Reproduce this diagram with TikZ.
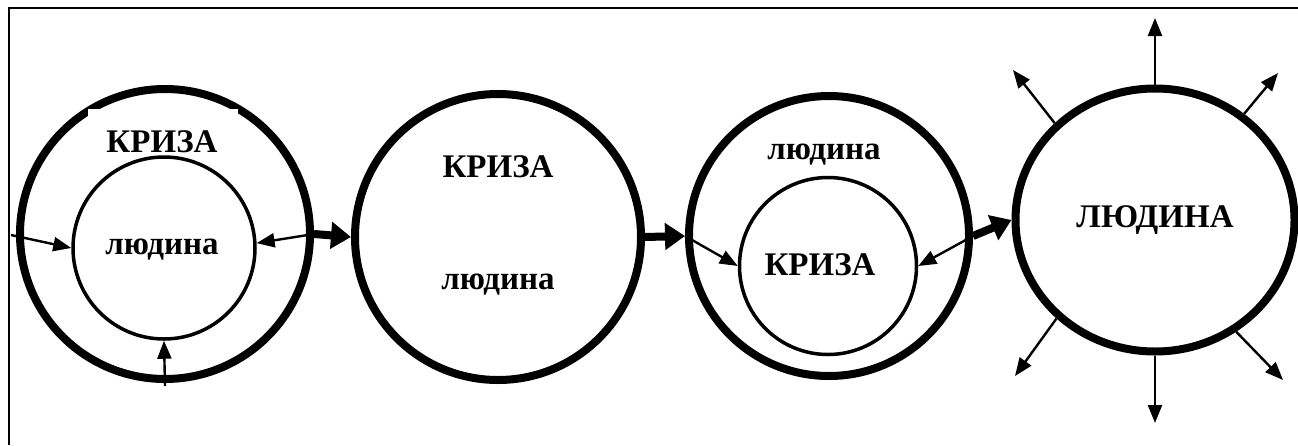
\documentclass[tikz,border=0pt]{standalone}
\usepackage{fontspec}
\setmainfont{Liberation Serif}
\usetikzlibrary{arrows.meta,shapes.geometric}
\begin{document}
\begin{tikzpicture}[x=1pt,y=-1pt,
  bigring/.style={draw,circle,line width=8pt,inner sep=0pt},
  smallring/.style={draw,circle,line width=3.5pt,inner sep=0pt},
  lbl/.style={font=\bfseries\fontsize{33}{33}\selectfont,inner sep=0pt},
  thin arrow/.style={line width=2.4pt,-{Triangle[length=18pt,width=14pt]}},
  thick arrow/.style={line width=8pt,-{Triangle[length=20pt,width=26pt]}}]
\useasboundingbox (0,0) rectangle (1298,445);
% frame
\draw[line width=1.8pt] (9,445) -- (9,8) -- (1298,8);
% circle 1
\node[bigring,minimum size=290pt] (c1o) at (165,234) {};
\fill[white] (88,108.5) rectangle (238,150);
\node[smallring,minimum size=182pt] (c1i) at (164,248) {};
\node[lbl] (t1a) at (162,142) {КРИЗА};
\node[lbl] (t1b) at (162,250) {людина};
\coordinate (p1l) at (11,235);
\coordinate (p1b) at (165,386);
\draw[thin arrow] (p1l) -- (c1i.west);
\draw[thin arrow] (c1o.east) -- (c1i.3);
\draw[thin arrow] (p1b) -- (c1i.south);
% circle 2
\node[bigring,minimum size=286pt] (c2o) at (498,237) {};
\node[lbl] (t2a) at (498,167) {КРИЗА};
\node[lbl] (t2b) at (498,285) {людина};
% circle 3
\node[bigring,minimum size=280pt] (c3o) at (829,236) {};
\node[smallring,minimum size=177pt] (c3i) at (828,266) {};
\node[lbl] (t3a) at (824,155) {людина};
\node[lbl] (t3b) at (820,265) {КРИЗА};
\draw[thin arrow] (c3o.west) -- (c3i.west);
\draw[thin arrow] (c3o.east) -- (c3i.east);
% circle 4
\node[draw,ellipse,line width=8pt,inner sep=0pt,minimum width=279pt,minimum height=263pt] (c4) at (1155,220) {};
\node[lbl] (t4) at (1155,220) {ЛЮДИНА};
\coordinate (q1) at (1155,18);
\coordinate (q2) at (1013,70);
\coordinate (q3) at (1278,73);
\coordinate (q4) at (1155,423);
\coordinate (q5) at (1015,376);
\coordinate (q6) at (1283,380);
\draw[thin arrow] (c4.north) -- (q1);
\draw[thin arrow] (c4.136) -- (q2);
\draw[thin arrow] (c4.50) -- (q3);
\draw[thin arrow] (c4.south) -- (q4);
\draw[thin arrow] (c4.225) -- (q5);
\draw[thin arrow] (c4.306) -- (q6);
% links between circles
\draw[thick arrow] (c1o.east) -- (c2o.west);
\draw[thick arrow] (c2o.east) -- (c3o.west);
\draw[thick arrow] (c3o.east) -- (c4.west);
\end{tikzpicture}
\end{document}
